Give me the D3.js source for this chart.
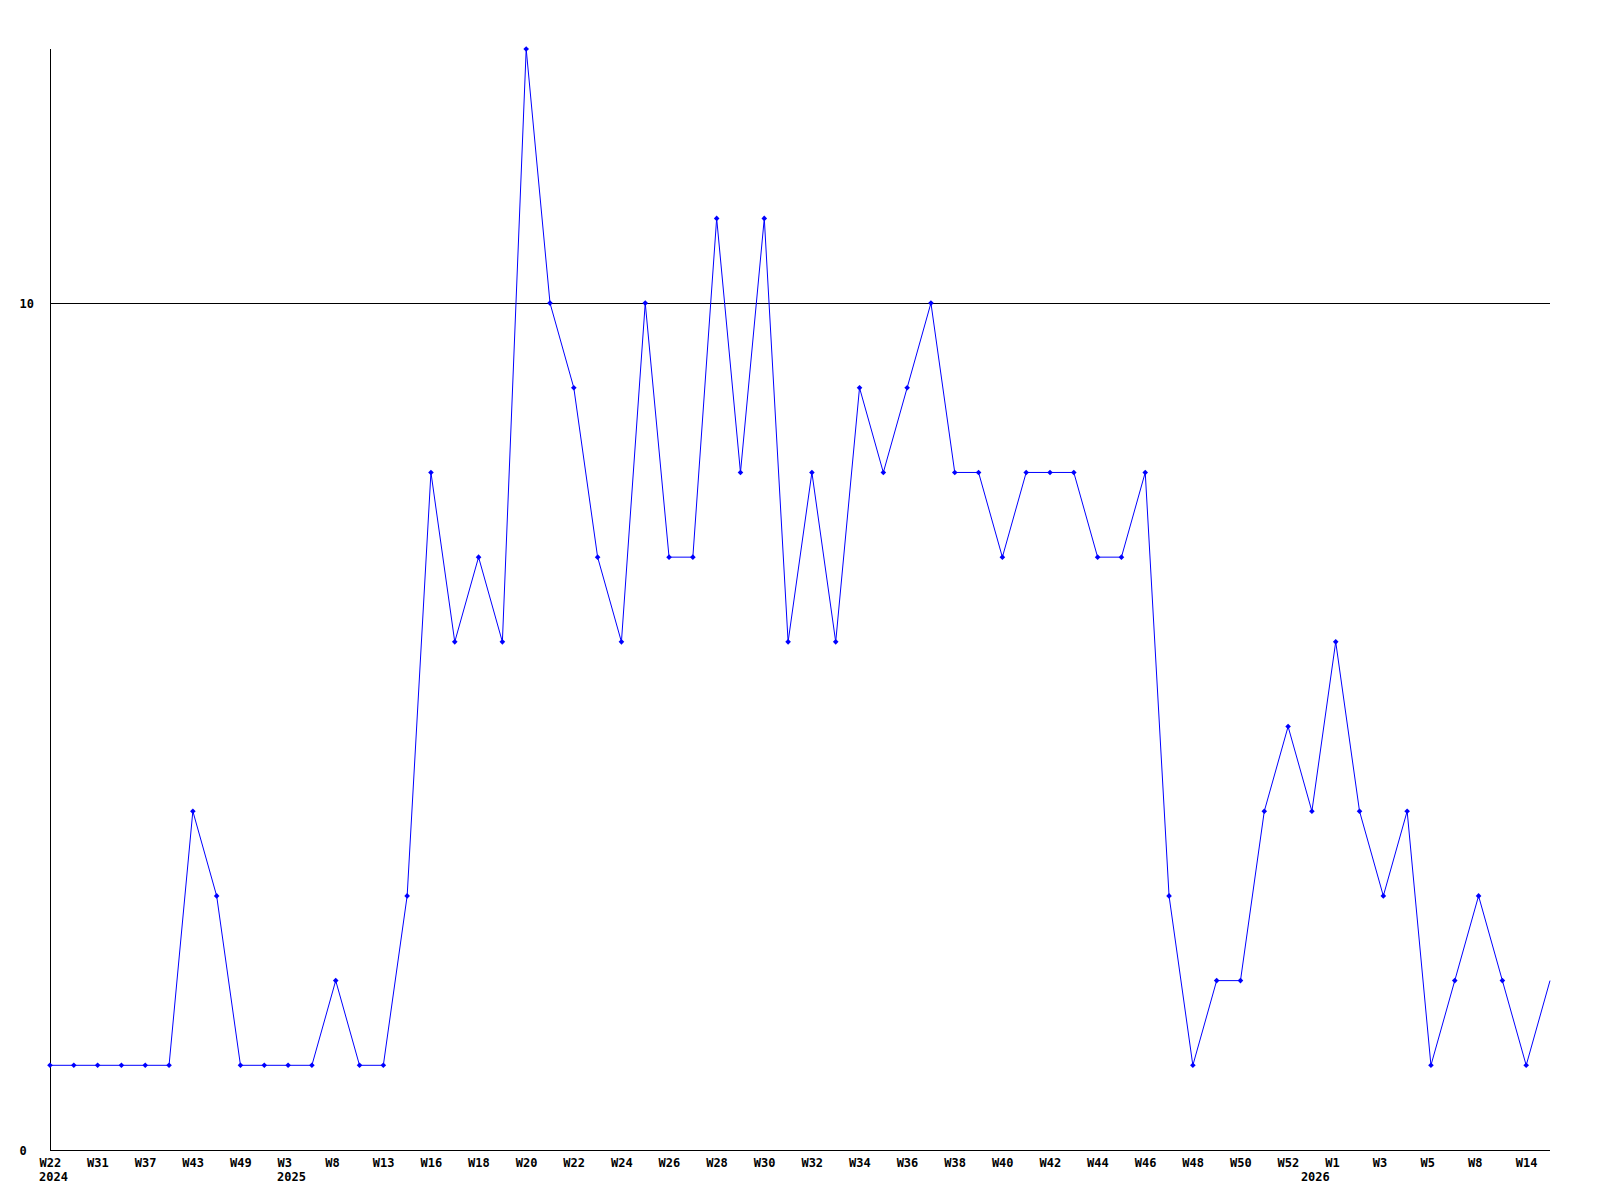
<!DOCTYPE html>
<html>
<head>
<meta charset="utf-8">
<script src="https://cdn.jsdelivr.net/npm/d3@7"></script>
<style>
  html, body { margin: 0; padding: 0; background: #fff; }
  svg { display: block; }
  text { font-family: "DejaVu Sans Mono", "Liberation Mono", monospace; font-weight: bold; font-size: 12px; fill: #000; }
</style>
</head>
<body>
<svg id="chart" width="1600" height="1200"></svg>
<script>
// Week categories (only every second one is labelled on the axis)
const weeks = [
  "W22","W28","W31","W34","W37","W40","W43","W46","W49","W52",
  "W3","W5","W8","W11","W13","W15","W16","W17","W18","W19",
  "W20","W21","W22","W23","W24","W25","W26","W27","W28","W29",
  "W30","W31","W32","W33","W34","W35","W36","W37","W38","W39",
  "W40","W41","W42","W43","W44","W45","W46","W47","W48","W49",
  "W50","W51","W52","W53","W1","W2","W3","W4","W5","W7",
  "W8","W11","W14","W15"
];
const values = [
  1,1,1,1,1,1,4,3,1,1,
  1,1,2,1,1,3,8,6,7,6,
  13,10,9,7,6,10,7,7,11,8,
  11,6,8,6,9,8,9,10,8,8,
  7,8,8,8,7,7,8,3,1,2,
  2,4,5,4,6,4,3,4,1,2,
  3,2,1,2
];
const yearLabels = ["2024","2025","2026"];
const yearStartIndex = [0, 10, 53];
const yTicks = [0, 10];
const tickIndices = d3.range(0, weeks.length, 2);

(function () {
const svg = d3.select("#chart");
const mLeft = 50, mRight = 1550, mTop = 49, mBottom = 1150;

const x = d3.scalePoint().domain(d3.range(weeks.length)).range([mLeft, mRight]);
const y = d3.scaleLinear().domain([0, 13]).range([mBottom, mTop]);

// horizontal reference line at 10
svg.append("g").selectAll("line")
  .data(yTicks.filter(v => v > 0))
  .join("line")
  .attr("x1", mLeft).attr("x2", mRight)
  .attr("y1", d => Math.round(y(d)) + 0.5).attr("y2", d => Math.round(y(d)) + 0.5)
  .attr("stroke", "#000").attr("stroke-width", 1);

// Axes
const xAxis = d3.axisBottom(x).tickValues(tickIndices).tickSize(0).tickFormat(i => weeks[i]);
const gx = svg.append("g").attr("transform", `translate(0,${mBottom + 0.5})`).call(xAxis);
gx.select(".domain").attr("d", `M${mLeft},0H${mRight}`).attr("stroke", "#000");
gx.selectAll(".tick text")
  .attr("text-anchor", "start").attr("x", -11).attr("y", 16).attr("dy", 0);
gx.attr("font-family", null).attr("font-size", null);

const yAxis = d3.axisLeft(y).tickValues(yTicks).tickSize(0).tickFormat(d3.format("d"));
const gy = svg.append("g").attr("transform", `translate(${mLeft + 0.5},0)`).call(yAxis);
gy.select(".domain").attr("d", `M0,${mTop}V${mBottom}`).attr("stroke", "#000");
gy.selectAll(".tick text")
  .attr("text-anchor", "start").attr("x", -31).attr("dy", 0).attr("y", 4.5);
gy.attr("font-family", null).attr("font-size", null);

// Year labels
svg.append("g").selectAll("text")
  .data(yearLabels)
  .join("text")
  .attr("x", (d, i) => x(yearStartIndex[i]) - 11)
  .attr("y", mBottom + 31)
  .text(d => d);

// Line
const line = d3.line().x((d, i) => x(i)).y(d => y(d));
svg.append("path")
  .datum(values)
  .attr("d", line)
  .attr("fill", "none")
  .attr("stroke", "#0000ff")
  .attr("stroke-width", 1);

// Markers (last point has none)
svg.append("g").selectAll("path")
  .data(values.slice(0, values.length - 1))
  .join("path")
  .attr("transform", (d, i) => `translate(${x(i)},${y(d)})`)
  .attr("d", "M0,-2.8L2.8,0L0,2.8L-2.8,0Z")
  .attr("fill", "#0000ff");
})();
</script>
</body>
</html>
